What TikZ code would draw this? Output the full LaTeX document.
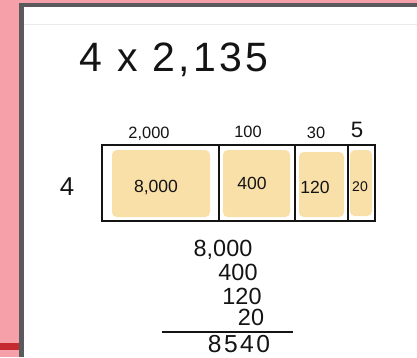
\documentclass[tikz,border=0pt]{standalone}
\usepackage{fontspec}
\setmainfont{Liberation Sans}
\usetikzlibrary{positioning}
\definecolor{bgpink}{HTML}{F6A0AA}
\definecolor{framegrey}{HTML}{5A5A5C}
\definecolor{redband}{HTML}{C42A30}
\definecolor{cellfill}{HTML}{F9DFA8}
\definecolor{inkblack}{HTML}{141414}
\tikzset{
  ink/.style={text=inkblack,inner sep=0pt},
  toplbl/.style={ink,font=\fontsize{14}{14}\selectfont},
  celllbl/.style={ink,font=\fontsize{15}{15}\selectfont},
  sumlbl/.style={ink,font=\fontsize{20}{20}\selectfont},
  pen/.style={draw=inkblack,line width=1.4pt},
  patch/.style={fill=cellfill,rounded corners=4pt},
}

\begin{document}
\begin{tikzpicture}[x=0.3mm,y=-0.3mm]
  \useasboundingbox (0,0) rectangle (417,357);
  % page behind the board
  \fill[bgpink] (0,0) rectangle (417,357);
  \fill[redband] (0,343) rectangle (19,350);
  \fill[framegrey] (19,3) rectangle (417,357);
  \fill[white] (24,7) rectangle (417,357);
  \draw[black!8,line width=0.5pt] (24,24) -- (417,24);
  % problem
  \node[ink,font=\fontsize{35}{35}\selectfont\addfontfeature{LetterSpace=8}] (title) at (174,60) {4 x 2,135};
  % area model
  \foreach \x/\n in {102/l,219/a,295/b,348/c,375/r}{
    \coordinate (t\n) at (\x,145);
    \coordinate (b\n) at (\x,221);
  }
  \fill[patch] (112,150) rectangle (210,217);
  \fill[patch] (223,150) rectangle (290,217);
  \fill[patch] (299,152) rectangle (344,217);
  \fill[patch] (350,150) rectangle (372,216);
  \draw[pen] (tl) rectangle (br);
  \draw[pen] (ta) -- (ba);
  \draw[pen] (tb) -- (bb);
  \draw[pen] (tc) -- (bc);
  \node[toplbl] (p1) at (149,134) {2,000};
  \node[toplbl] (p2) at (248,132) {100};
  \node[toplbl] (p3) at (316,133) {30};
  \node[ink,font=\fontsize{19}{19}\selectfont] (p4) at (357,130) {5};
  \node[ink,font=\fontsize{22}{22}\selectfont] (f) at (67,187) {4};
  \node[celllbl] (c1) at (156,187) {8,000};
  \node[celllbl] (c2) at (252,183) {400};
  \node[celllbl] (c3) at (315,187) {120};
  \node[ink,font=\fontsize{12}{12}\selectfont] (c4) at (360,187) {20};
  % adding the parts
  \node[sumlbl] (s1) at (223,250) {8,000};
  \node[sumlbl] (s2) at (238,272) {400};
  \node[sumlbl] (s3) at (242,296) {120};
  \node[sumlbl] (s4) at (251,317) {20};
  \coordinate (ul) at (162,332);
  \coordinate (ur) at (293,332);
  \draw[pen,line width=1pt] (ul) -- (ur);
  \node[ink,font=\fontsize{21}{21}\selectfont\addfontfeature{LetterSpace=10}] (tot) at (239,344) {8540};
\end{tikzpicture}
\end{document}
